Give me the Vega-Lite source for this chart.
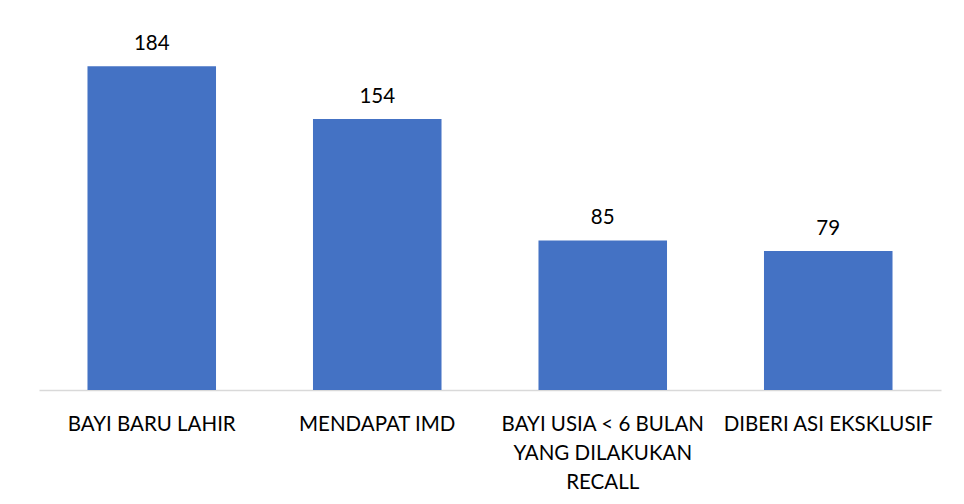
{
  "$schema": "https://vega.github.io/schema/vega-lite/v6.json",
  "autosize": {"type": "none"},
  "width": 902,
  "height": 352,
  "padding": {"left": 39, "top": 38, "right": 23, "bottom": 114},
  "background": "white",
  "config": {"view": {"stroke": null}, "font": "Lato"},
  "data": {
    "values": [
      {"kategori": "BAYI BARU LAHIR", "jumlah": 184},
      {"kategori": "MENDAPAT IMD", "jumlah": 154},
      {"kategori": "BAYI USIA < 6 BULAN|YANG DILAKUKAN|RECALL", "jumlah": 85},
      {"kategori": "DIBERI ASI EKSKLUSIF", "jumlah": 79}
    ]
  },
  "encoding": {
    "x": {
      "field": "kategori",
      "type": "nominal",
      "sort": null,
      "scale": {"paddingInner": 0.43, "paddingOuter": 0.215},
      "axis": {
        "title": null,
        "labelAngle": 0,
        "labelExpr": "split(datum.label, '|')",
        "labelFont": "Lato",
        "labelFontSize": 20.5,
        "labelColor": "#000000",
        "labelLineHeight": 29,
        "labelPadding": 40,
        "labelLimit": 400,
        "labelOverlap": false,
        "labelBaseline": "alphabetic",
        "ticks": false,
        "domainColor": "#d9d9d9",
        "domainWidth": 1.5
      }
    },
    "y": {
      "field": "jumlah",
      "type": "quantitative",
      "scale": {"domain": [0, 200]},
      "axis": null
    }
  },
  "layer": [
    {"mark": {"type": "bar", "color": "#4472C4"}},
    {
      "mark": {"type": "text", "fontSize": 20.5, "font": "Lato", "color": "#000000", "baseline": "alphabetic", "dy": -16},
      "encoding": {"text": {"field": "jumlah", "type": "quantitative"}}
    }
  ]
}
